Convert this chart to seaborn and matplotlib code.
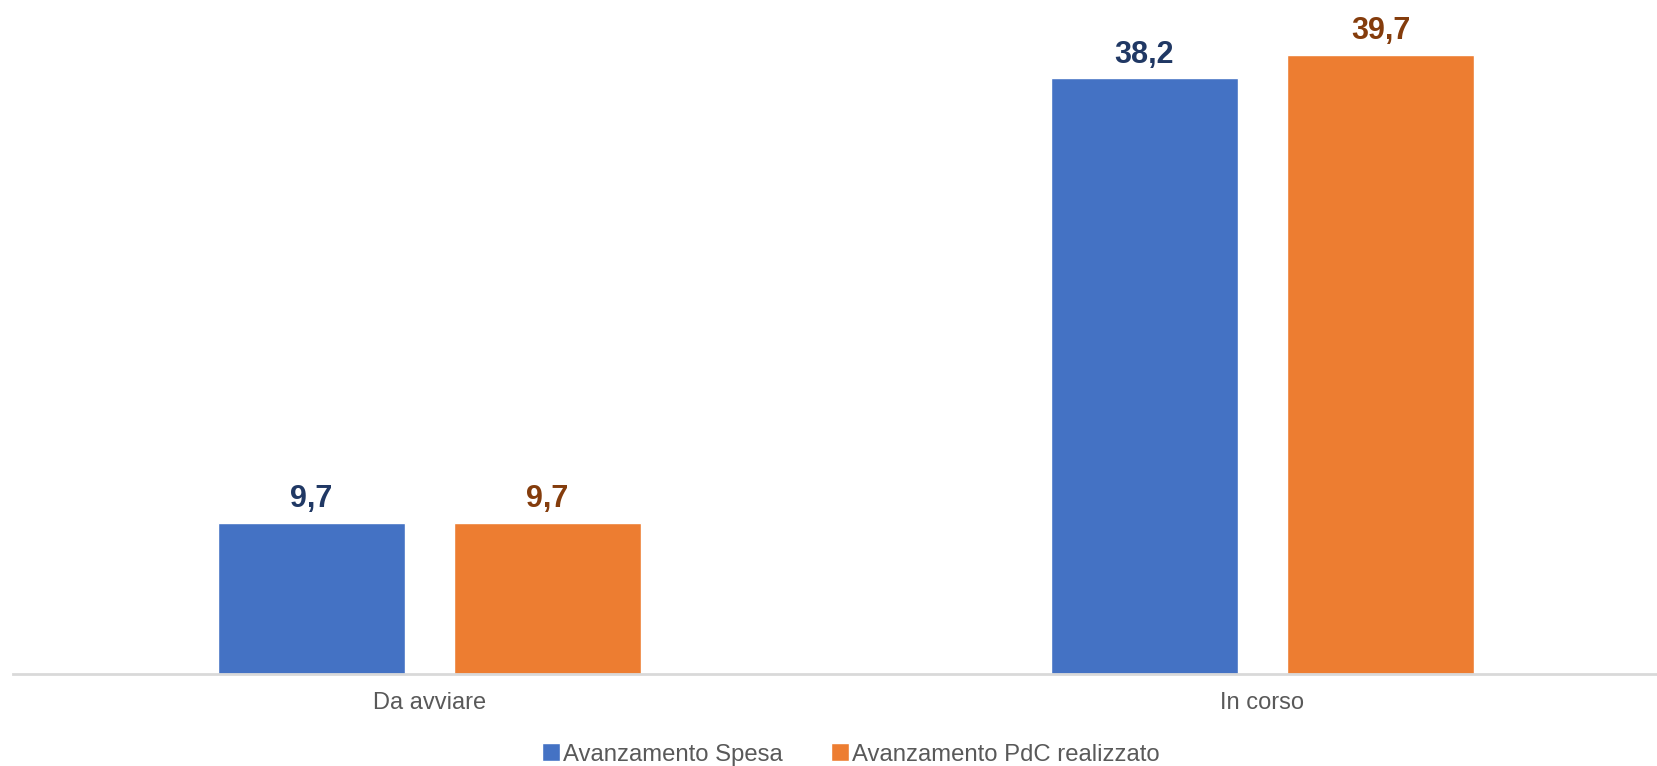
import matplotlib
matplotlib.use("Agg")
import matplotlib.pyplot as plt
import seaborn as sns
import pandas as pd

categories = ["Da avviare", "In corso"]
series_names = ["Avanzamento Spesa", "Avanzamento PdC realizzato"]
spesa = [9.7, 38.2]
pdc = [9.7, 39.7]

bar_colors = ["#4472C4", "#ED7D31"]
label_colors = ["#203864", "#843C0C"]

df = pd.DataFrame({
    "categoria": categories * 2,
    "serie": [series_names[0]] * len(categories) + [series_names[1]] * len(categories),
    "valore": spesa + pdc,
})

sns.set_theme(style="white")
plt.rcParams["font.family"] = ["Liberation Sans", "DejaVu Sans"]

fig = plt.figure(figsize=(16.57, 7.66), dpi=100)
ax = fig.add_axes([13 / 1657, 92 / 766, 1 - 13 / 1657, 1 - 92 / 766])

sns.barplot(data=df, x="categoria", y="valore", hue="serie",
            order=categories, hue_order=series_names,
            palette=bar_colors, width=0.567, gap=0.207,
            saturation=1, ax=ax, legend=True)

for cont, col in zip(ax.containers, label_colors):
    ax.bar_label(cont, labels=[f"{v:.1f}".replace(".", ",") for v in cont.datavalues],
                 padding=6, color=col, fontsize=22, fontweight="bold")

ax.set_ylim(0, 43.2)
ax.set_xlim(-0.5, 1.4736)
ax.set_xlabel("")
ax.set_ylabel("")
ax.set_yticks([])
ax.tick_params(axis="x", length=0, pad=13, labelsize=17, labelcolor="#595959")
for s in ["top", "right", "left"]:
    ax.spines[s].set_visible(False)
ax.spines["bottom"].set_color("#D9D9D9")
ax.spines["bottom"].set_linewidth(2)

handles, labels = ax.get_legend_handles_labels()
ax.get_legend().remove()
leg = fig.legend(handles, labels, loc="center", bbox_to_anchor=(0.5136, 0.015),
                 ncol=2, frameon=False, fontsize=17.2, handlelength=0.75,
                 handleheight=0.75, handletextpad=0.15, columnspacing=2.0,
                 borderaxespad=0)
for t in leg.get_texts():
    t.set_color("#595959")

fig.savefig("out.png", dpi=100, facecolor="white")
